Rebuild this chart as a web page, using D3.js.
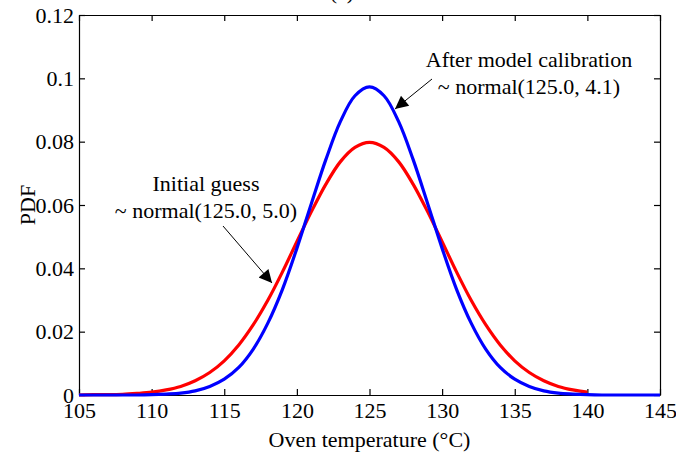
<!DOCTYPE html>
<html>
<head>
<meta charset="utf-8">
<script src="https://cdn.jsdelivr.net/npm/d3@7"></script>
<style>
  body { margin: 0; background: #fff; }
</style>
</head>
<body>
<div id="chart"></div>
<script>
// temperatures, 1 degree apart
var temps = d3.range(105, 146);

// initial guess curve (red), 105..140
var initialPdf = [0.0000, 0.0001, 0.0001, 0.0002, 0.0005, 0.0009, 0.0016, 0.0027, 0.0045, 0.0071,
                  0.0108, 0.0158, 0.0222, 0.0299, 0.0388, 0.0484, 0.0579, 0.0666, 0.0737, 0.0782,
                  0.0798, 0.0782, 0.0737, 0.0666, 0.0579, 0.0484, 0.0388, 0.0299, 0.0222, 0.0158,
                  0.0108, 0.0071, 0.0045, 0.0027, 0.0016, 0.0009];

// after calibration curve (blue), 105..145
var calibratedPdf = [0.0000, 0.0000, 0.0000, 0.0000, 0.0000, 0.0001, 0.0003, 0.0006, 0.0013, 0.0027,
                     0.0050, 0.0087, 0.0145, 0.0227, 0.0333, 0.0463, 0.0605, 0.0744, 0.0864, 0.0945,
                     0.0973, 0.0945, 0.0864, 0.0744, 0.0605, 0.0463, 0.0333, 0.0227, 0.0145, 0.0087,
                     0.0050, 0.0027, 0.0013, 0.0006, 0.0003, 0.0001, 0.0000, 0.0000, 0.0000, 0.0000,
                     0.0000];

var xTicks = [105, 110, 115, 120, 125, 130, 135, 140, 145];
var yTicks = [0, 0.02, 0.04, 0.06, 0.08, 0.1, 0.12];

var margin = {top: 15, right: 16, bottom: 61, left: 79},
    width = 676 - margin.left - margin.right,
    height = 456 - margin.top - margin.bottom;

var serif = "'Liberation Serif', 'Times New Roman', serif";
var fontSize = 22;

var svg = d3.select("#chart")
  .append("svg")
    .attr("width", 676)
    .attr("height", 456)
    .style("font-family", serif);

var g = svg.append("g")
    .attr("transform", "translate(" + margin.left + "," + margin.top + ")");

var x = d3.scaleLinear().domain([105, 145]).range([0, width]);
var y = d3.scaleLinear().domain([0, 0.12]).range([height, 0]);

// axes with inward ticks, mirrored on top and right
g.append("g")
    .attr("transform", "translate(0," + height + ")")
    .call(d3.axisBottom(x).tickValues(xTicks).tickFormat(d3.format("d"))
      .tickSizeInner(-6).tickSizeOuter(0).tickPadding(7));
g.append("g")
    .call(d3.axisLeft(y).tickValues(yTicks).tickFormat(function(d) { return d === 0 ? "0" : String(+d.toFixed(2)); })
      .tickSizeInner(-6).tickSizeOuter(0).tickPadding(5));
g.append("g")
    .call(d3.axisTop(x).tickValues(xTicks).tickFormat("").tickSizeInner(-6).tickSizeOuter(0));
g.append("g")
    .attr("transform", "translate(" + width + ",0)")
    .call(d3.axisRight(y).tickValues(yTicks).tickFormat("").tickSizeInner(-6).tickSizeOuter(0));

g.selectAll(".tick text")
    .attr("fill", "#000")
    .style("font-family", serif)
    .style("font-size", fontSize + "px");
g.selectAll(".domain, .tick line")
    .attr("stroke", "#000")
    .attr("stroke-width", 1.2);

// curves
var line = d3.line()
    .x(function(d) { return x(d[0]); })
    .y(function(d) { return y(d[1]); })
    .curve(d3.curveCatmullRom);

var redData = initialPdf.map(function(v, i) { return [temps[i], v]; });
var blueData = calibratedPdf.map(function(v, i) { return [temps[i], v]; });

g.append("path")
    .datum(redData)
    .attr("d", line)
    .attr("fill", "none")
    .attr("stroke", "#ff0000")
    .attr("stroke-width", 3.2);

g.append("path")
    .datum(blueData)
    .attr("d", line)
    .attr("fill", "none")
    .attr("stroke", "#0000ff")
    .attr("stroke-width", 3.2);

// arrow marker
svg.append("defs").append("marker")
    .attr("id", "arrow")
    .attr("viewBox", "0 0 10 10")
    .attr("refX", 10)
    .attr("refY", 5)
    .attr("markerWidth", 18)
    .attr("markerHeight", 13)
    .attr("markerUnits", "userSpaceOnUse")
    .attr("orient", "auto")
  .append("path")
    .attr("d", "M0,0L10,5L0,10Z")
    .attr("fill", "#000");

// annotations (page coordinates)
function annotate(lines, cx, baseY, from, to) {
  var t = svg.append("text")
      .attr("text-anchor", "middle")
      .style("font-size", fontSize + "px")
      .attr("fill", "#000");
  lines.forEach(function(s, i) {
    t.append("tspan").attr("x", cx).attr("y", baseY + i * 27).text(s);
  });
  svg.append("line")
      .attr("x1", from[0]).attr("y1", from[1])
      .attr("x2", to[0]).attr("y2", to[1])
      .attr("stroke", "#000")
      .attr("stroke-width", 1)
      .attr("marker-end", "url(#arrow)");
}

annotate(["After model calibration", "~ normal(125.0, 4.1)"], 529, 67, [432, 79], [395, 109]);
annotate(["Initial guess", "~ normal(125.0, 5.0)"], 206, 191, [223, 226], [272, 283]);

// axis labels
svg.append("text")
    .attr("x", margin.left + width / 2)
    .attr("y", 447)
    .attr("text-anchor", "middle")
    .style("font-size", fontSize + "px")
    .text("Oven temperature (\u00b0C)");

svg.append("text")
    .attr("transform", "translate(35," + (margin.top + height / 2) + ") rotate(-90)")
    .attr("text-anchor", "middle")
    .style("font-size", fontSize + "px")
    .text("PDF");

// panel title, mostly cut off at the top edge as in the original
svg.append("text")
    .attr("x", 342)
    .attr("y", -1)
    .attr("text-anchor", "middle")
    .style("font-size", fontSize + "px")
    .text("(a)");
</script>
</body>
</html>
